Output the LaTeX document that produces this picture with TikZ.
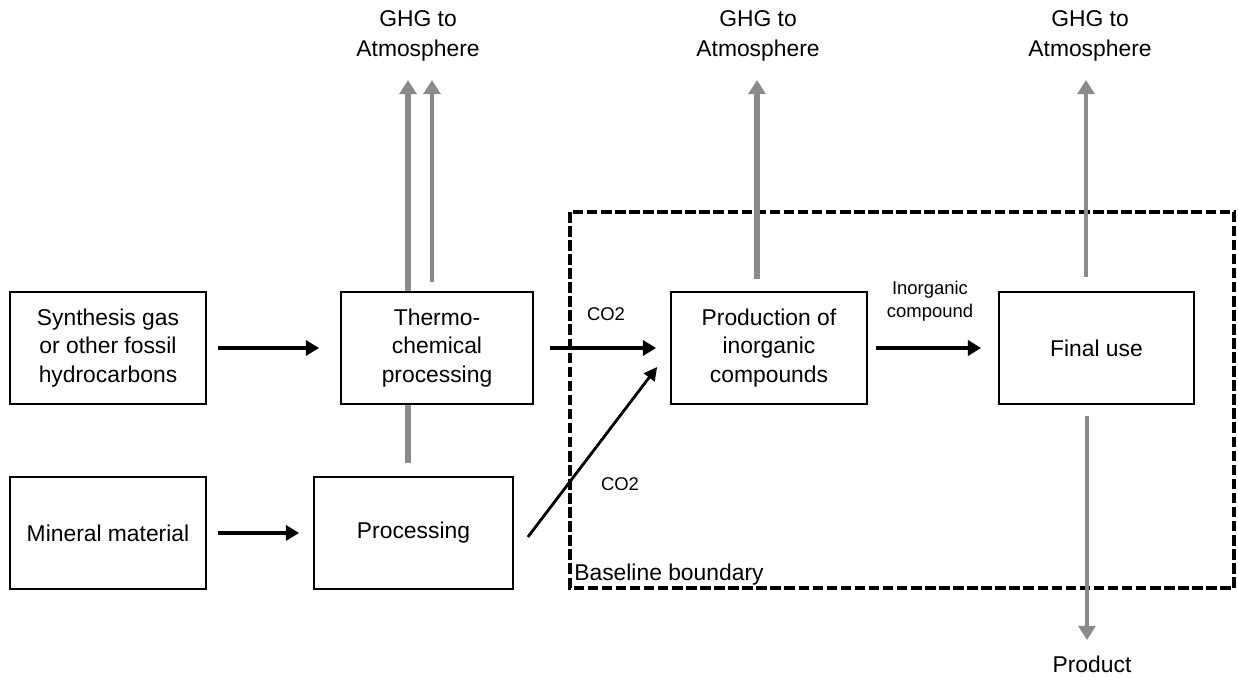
\documentclass[tikz,border=0pt]{standalone}
\usepackage{fontspec}
\setmainfont{Liberation Sans}
\usepackage{xcolor}
\usepackage{tikz}
\usetikzlibrary{arrows.meta,positioning,calc}
\definecolor{ghggray}{HTML}{8A8A8A}

\begin{document}
\begin{tikzpicture}[
  box/.style={draw=black,line width=1pt,minimum width=3.92cm,minimum height=2.24cm,
              inner sep=2pt,align=center,font=\fontsize{13}{16}\selectfont},
  flow/.style={-{Triangle[length=7.5pt,width=8.5pt]},line width=2pt},
  flowthin/.style={-{Triangle[length=7.5pt,width=7.5pt]},line width=1.6pt},
  ghg/.style={-{Triangle[length=8pt,width=9.5pt]},line width=3.4pt,draw=ghggray},
  ghgthin/.style={ghg,line width=2.8pt},
  lbl/.style={align=center,font=\fontsize{13}{17}\selectfont},
  small/.style={align=center,font=\fontsize{10.5}{13}\selectfont},
  boundary/.style={line width=2.1pt,dash pattern=on 6pt off 2pt}
]
\useasboundingbox (0,0) rectangle (24.76,-13.6);

\node[box] (synth) at (2.16,-6.96)   {Synthesis gas\\or other fossil\\hydrocarbons};
\node[box] (mineral) at (2.16,-10.66) {Mineral material};
\node[box,minimum width=3.84cm] (thermo) at (8.74,-6.96) {Thermo-\\chemical\\processing};
\node[box,minimum width=3.98cm] (proc) at (8.27,-10.66)  {Processing};
\node[box] (prod) at (15.38,-6.96)   {Production of\\inorganic\\compounds};
\node[box,minimum width=3.9cm] (final) at (21.93,-6.96) {Final use};

% baseline boundary
\draw[boundary] (11.4,-4.24) rectangle (24.68,-11.76);
\node[lbl,anchor=west,inner sep=0pt] (base) at (11.48,-11.5) {Baseline boundary};

% free ends of the emission arrows
\coordinate (tip1) at (8.16,-1.6);
\coordinate (tip2) at (8.64,-1.6);
\coordinate (tip3) at (15.14,-1.6);
\coordinate (tip4) at (21.72,-1.6);
\coordinate (out) at (21.74,-12.8);

\node[lbl] (atm1) at (8.36,-0.72)  {GHG to\\Atmosphere};
\node[lbl] (atm2) at (15.16,-0.72) {GHG to\\Atmosphere};
\node[lbl] (atm3) at (21.8,-0.72)  {GHG to\\Atmosphere};
\node[lbl,inner sep=1pt] (product) at (21.84,-13.28) {Product};

\draw[flow,shorten <=0.22cm,shorten >=0.42cm] (synth) -- (thermo);
\draw[flow,shorten <=0.22cm,shorten >=0.28cm] (mineral) -- (proc);
\draw[flow,shorten <=0.32cm,shorten >=0.28cm] (thermo) -- (prod);
\draw[flowthin] ([shift={(0.28,-0.08)}]proc.east) -- ([shift={(-0.26,-0.38)}]prod.west);
\draw[flow,shorten <=0.16cm,shorten >=0.34cm] (prod) -- (final);

\node[small] (co2a) at (12.12,-6.28) {CO2};
\node[small] (co2b) at (12.4,-9.68)  {CO2};
\node[small] (inorg) at (18.6,-6.02) {Inorganic\\compound};

\draw[ghg,-] ([yshift=0.26cm]tip1 |- proc.north) -- (tip1 |- thermo.south);
\draw[ghg] (tip1 |- thermo.north) -- (tip1);
\draw[ghgthin] ([yshift=0.18cm]tip2 |- thermo.north) -- (tip2);
\draw[ghg] ([yshift=0.24cm]tip3 |- prod.north) -- (tip3);
\draw[ghgthin] ([yshift=0.28cm]tip4 |- final.north) -- (tip4);
\draw[ghgthin] ([yshift=-0.22cm]out |- final.south) -- (out);
\end{tikzpicture}
\end{document}
